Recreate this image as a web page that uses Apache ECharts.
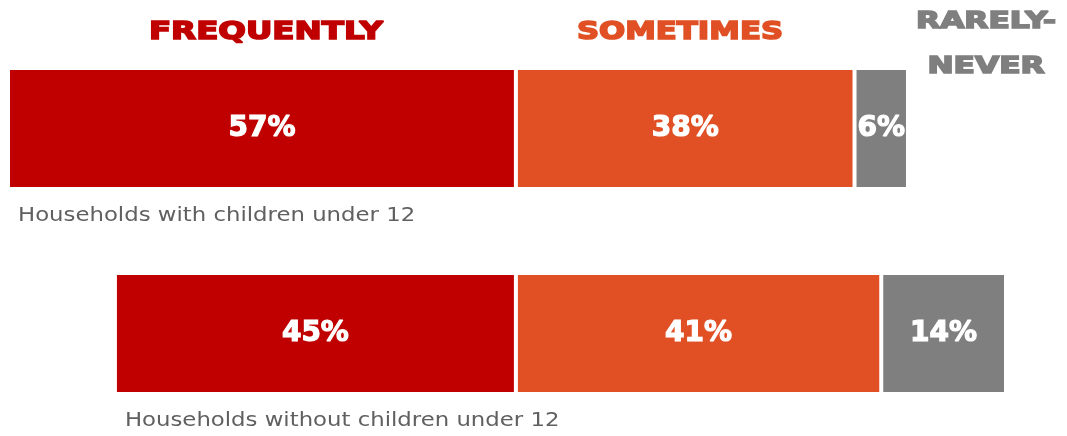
<!DOCTYPE html>
<html>
<head>
<meta charset="utf-8">
<script src="https://cdn.jsdelivr.net/npm/echarts@6/dist/echarts.min.js"></script>
<style>
  html, body { margin: 0; padding: 0; background: #ffffff; }
  #chart { width: 1067px; height: 436px; }
</style>
</head>
<body>
<div id="chart"></div>
<script>
// Survey answers by household type (percent of respondents)
const categories = ['Households with children under 12', 'Households without children under 12'];
const frequently = [57, 45];
const sometimes = [38, 41];
const rarelyNever = [6, 14];

const seriesNames = ['FREQUENTLY', 'SOMETIMES', 'RARELY-\nNEVER'];
const colors = ['#C00000', '#E05024', '#7F7F7F'];

const BAR_WIDTH = 121;
const chart = echarts.init(document.getElementById('chart'), null, { renderer: 'canvas' });

// White percentage labels, thickened with a same-colour outline
const valueLabel = {
  show: true,
  position: 'inside',
  color: '#ffffff',
  fontFamily: 'DejaVu Sans',
  fontWeight: 'bold',
  fontSize: 28,
  textBorderColor: '#ffffff',
  textBorderWidth: 1.2,
  formatter: p => Math.abs(p.value) + '%'
};

function barSeries(name, values, color, sign) {
  return {
    name: name,
    type: 'bar',
    stack: 'total',
    barWidth: BAR_WIDTH,
    data: values.map(v => sign * v),
    itemStyle: { color: color, borderColor: '#ffffff', borderWidth: 2 },
    label: valueLabel,
    emphasis: { disabled: true },
    silent: true
  };
}

chart.setOption({
  animation: false,
  backgroundColor: '#ffffff',
  grid: { left: 8, right: 61, top: 26, height: 412, containLabel: false },
  xAxis: { type: 'value', min: -57, max: 55, show: false },
  yAxis: { type: 'category', data: categories, inverse: true, show: false },
  series: [
    // "Frequently" extends left of the shared baseline
    barSeries(seriesNames[0], frequently, colors[0], -1),
    barSeries(seriesNames[1], sometimes, colors[1], 1),
    barSeries(seriesNames[2], rarelyNever, colors[2], 1)
  ]
});

// Column headers and row captions
function header(text, color, x, y, scaleX, fontSize, extra) {
  return {
    type: 'text', x: x, y: y, scaleX: scaleX,
    style: Object.assign({
      text: text, fill: color, stroke: color, lineWidth: 1.6,
      fontFamily: 'DejaVu Sans', fontWeight: 'bold', fontSize: fontSize,
      align: 'center', verticalAlign: 'middle'
    }, extra || {})
  };
}

const graphics = [
  header(seriesNames[0], colors[0], 266, 32, 1.3, 25),
  header(seriesNames[1], colors[1], 680, 32, 1.23, 25),
  header(seriesNames[2], colors[2], 986, 45, 1.36, 23, { lineHeight: 45 })
];

categories.forEach((name, i) => {
  const pt = chart.convertToPixel({ xAxisIndex: 0, yAxisIndex: 0 }, [-frequently[i], i]);
  graphics.push({
    type: 'text',
    x: pt[0] + 10,
    y: pt[1] + BAR_WIDTH / 2 + 27,
    scaleX: 1.2,
    style: {
      text: name,
      fill: '#606060',
      fontFamily: 'DejaVu Sans',
      fontSize: 19,
      align: 'left',
      verticalAlign: 'middle'
    }
  });
});

chart.setOption({ graphic: graphics });
</script>
</body>
</html>
